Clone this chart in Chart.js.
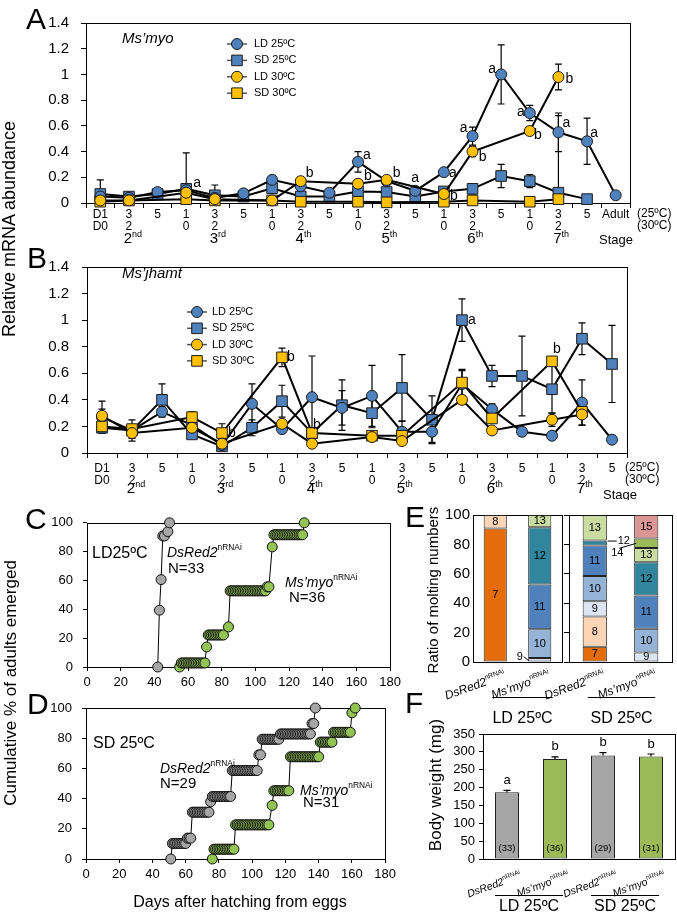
<!DOCTYPE html>
<html>
<head>
<meta charset="utf-8">
<title>Ms'myo / Ms'jhamt</title>
<script src="https://cdn.jsdelivr.net/npm/chart.js@4.4.1/dist/chart.umd.min.js"></script>
<style>
  body { margin: 0; background: #fff; }
  #fig { position: relative; width: 677px; height: 912px; overflow: hidden; font-family: "Liberation Sans", Arial, sans-serif; color: #000; }
  #fig canvas { position: absolute; }
  .t { position: absolute; white-space: nowrap; line-height: 1; }
  .v { position: absolute; white-space: nowrap; line-height: 1; transform: translate(-50%, -50%) rotate(-90deg); }
  .u { position: relative; top: -0.8em; font-size: 0.6em; font-style: normal; }
  .p { font-size: 30px; }
</style>
</head>
<body>
<div id="fig">
  <canvas id="cA" width="677" height="250" style="left:0;top:0"></canvas>
  <canvas id="cB" width="677" height="255" style="left:0;top:245px"></canvas>
  <canvas id="cC" width="405" height="185" style="left:0;top:505px"></canvas>
  <canvas id="cD" width="400" height="222" style="left:0;top:690px"></canvas>
  <canvas id="cE1" width="170" height="230" style="left:400px;top:500px"></canvas>
  <canvas id="cE2" width="187" height="230" style="left:490px;top:500px"></canvas>
  <canvas id="cF" width="277" height="192" style="left:400px;top:720px"></canvas>

  <div class="t p" style="left:26px;top:4px">A</div>
  <div class="t p" style="left:27px;top:243px">B</div>
  <div class="t p" style="left:25px;top:504px">C</div>
  <div class="t p" style="left:27px;top:689px">D</div>
  <div class="t p" style="left:405px;top:502px">E</div>
  <div class="t p" style="left:405px;top:688px">F</div>

  <div class="t" style="left:122px;top:30px;font-size:15px;font-style:italic">Ms’myo</div>
  <div class="t" style="left:122px;top:265px;font-size:15px;font-style:italic">Ms’jhamt</div>

  <div class="v" style="left:9px;top:229px;font-size:18px">Relative mRNA abundance</div>
  <div class="v" style="left:10px;top:683px;font-size:17px">Cumulative % of adults emerged</div>
  <div class="v" style="left:432px;top:590px;font-size:15px">Ratio of molting numbers</div>
  <div class="v" style="left:435px;top:785px;font-size:17px">Body weight (mg)</div>

  <div class="t" style="left:92px;top:545px;font-size:16px">LD25ºC</div>
  <div class="t" style="left:167px;top:545px;font-size:14px"><i>DsRed2</i><span class="u">nRNAi</span></div>
  <div class="t" style="left:168px;top:560px;font-size:15px">N=33</div>
  <div class="t" style="left:285px;top:575px;font-size:14px"><i>Ms’myo</i><span class="u">nRNAi</span></div>
  <div class="t" style="left:289px;top:589px;font-size:15px">N=36</div>

  <div class="t" style="left:93px;top:735px;font-size:16px">SD 25ºC</div>
  <div class="t" style="left:160px;top:761px;font-size:14px"><i>DsRed2</i><span class="u">nRNAi</span></div>
  <div class="t" style="left:160px;top:775px;font-size:15px">N=29</div>
  <div class="t" style="left:300px;top:783px;font-size:14px"><i>Ms’myo</i><span class="u">nRNAi</span></div>
  <div class="t" style="left:303px;top:794px;font-size:15px">N=31</div>

  <div class="t" style="left:240px;top:894px;font-size:16px;transform:translateX(-50%)">Days after hatching from eggs</div>
</div>

<script>
const FONT = '"Liberation Sans", Arial, sans-serif';
Chart.defaults.font.family = FONT;
Chart.defaults.color = '#000';

// ---------- A / B : relative mRNA abundance ----------
const stageTicks = [
  ['D1','D0'], ['3','2'], ['5',''],
  ['1','0'], ['3','2'], ['5',''],
  ['1','0'], ['3','2'], ['5',''],
  ['1','0'], ['3','2'], ['5',''],
  ['1','0'], ['3','2'], ['5',''],
  ['1','0'], ['3','2'], ['5','']
];
const stageTicksA = stageTicks.concat([['Adult','']]);
const instars = ['2', '3', '4', '5', '6', '7'];
const instarSup = ['nd', 'rd', 'th', 'th', 'th', 'th'];
const instarAt = [1, 4, 7, 10, 13, 16];

const seriesNames = ['LD 25ºC', 'SD 25ºC', 'LD 30ºC', 'SD 30ºC'];
const seriesFill = ['#4F81BD', '#4F81BD', '#FFC000', '#FFC000'];
const seriesShape = ['circle', 'rect', 'circle', 'rect'];

// Ms'myo (A)
const myoLD25 = [0.05, 0.04, 0.085, 0.10, 0.04, 0.075, 0.18, 0.13, 0.08, 0.32, 0.17, 0.095, 0.24, 0.52, 1.00, 0.70, 0.55, 0.48, 0.06];
const myoLD25Err = [0.02, 0.02, 0.02, 0.02, 0.02, 0.02, 0.02, 0.03, 0.02, 0.08, 0.02, 0.02, 0.02, 0.07, 0.23, 0.06, 0.15, 0.18, null];
const myoSD25 = [0.07, 0.05, 0.07, 0.11, 0.06, 0.05, 0.115, 0.05, 0.05, 0.09, 0.085, 0.05, 0.09, 0.11, 0.21, 0.17, 0.08, 0.03, null];
const myoSD25Err = [0.11, 0.02, 0.01, 0.28, 0.08, 0.01, 0.02, 0.02, 0.01, 0.02, 0.01, 0.01, 0.02, 0.04, 0.09, 0.05, 0.60, 0.01, null];
const myoLD30 = [0.02, 0.02, null, 0.08, 0.03, null, 0.02, 0.17, null, 0.15, 0.18, null, 0.07, 0.40, null, 0.56, 0.98, null, null];
const myoLD30Err = [0.01, 0.01, null, 0.02, 0.01, null, 0.01, 0.03, null, 0.02, 0.02, null, 0.01, 0.04, null, 0.03, 0.10, null, null];
const myoSD30 = [0.01, 0.02, null, 0.03, 0.02, null, 0.02, 0.01, null, 0.01, 0.005, null, 0.01, 0.02, null, 0.01, 0.03, null, null];
const myoSD30Err = [null, null, null, null, null, null, null, null, null, null, null, null, null, null, null, null, null, null, null];
const lettersA = [[3, 0.155, 'a', 11], [7, 0.23, 'b', 9], [9, 0.37, 'a', 9], [9, 0.21, 'b', 10], [10, 0.23, 'b', 10],
  [11, 0.19, 'a', 0], [12, 0.23, 'a', 9], [12, 0.05, 'b', 10], [13, 0.58, 'a', -9], [13, 0.36, 'b', 10],
  [14, 1.04, 'a', -9], [15, 0.71, 'a', -9], [15, 0.53, 'b', 8], [16, 0.96, 'b', 11], [16, 0.62, 'a', 8], [17, 0.54, 'a', 7]];

// Ms'jhamt (B)
const jhLD25 = [0.27, 0.17, 0.31, 0.21, 0.06, 0.37, 0.18, 0.42, 0.34, 0.43, 0.16, 0.16, 0.52, 0.33, 0.16, 0.13, 0.38, 0.10];
const jhLD25Err = [0.06, 0.03, 0.04, 0.03, 0.02, 0.15, 0.03, 0.31, 0.13, 0.23, 0.08, 0.08, 0.10, 0.04, 0.03, 0.02, 0.17, 0.01];
const jhSD25 = [0.19, 0.17, 0.40, 0.14, 0.05, 0.19, 0.39, 0.15, 0.36, 0.30, 0.49, 0.25, 1.00, 0.58, 0.58, 0.48, 0.86, 0.67];
const jhSD25Err = [0.04, 0.03, 0.12, 0.03, 0.01, 0.06, 0.12, 0.02, 0.19, 0.11, 0.25, 0.18, 0.16, 0.08, 0.30, 0.18, 0.12, 0.29];
const jhLD30 = [0.28, 0.15, null, 0.19, 0.07, null, 0.22, 0.07, null, 0.12, 0.09, null, 0.40, 0.17, null, 0.25, 0.29, null];
const jhLD30Err = [0.11, 0.06, null, 0.02, 0.02, null, 0.02, 0.01, null, 0.01, 0.01, null, 0.03, 0.01, null, 0.05, 0.08, null];
const jhSD30 = [0.20, 0.18, null, 0.27, 0.15, null, 0.72, 0.15, null, 0.13, 0.13, null, 0.53, 0.26, null, 0.69, 0.31, null];
const jhSD30Err = [0.05, 0.07, null, 0.04, 0.07, null, 0.07, 0.02, null, 0.02, 0.05, null, 0.10, 0.03, null, 0.03, 0.03, null];
const lettersB = [[4, 0.15, 'b', 10], [6, 0.72, 'b', 9], [7, 0.21, 'b', 5], [12, 1.0, 'a', 10], [15, 0.78, 'b', 5]];

// ---------- C / D : cumulative % emerged, [percent, days seen at that level] ----------
const ldDsRed = [
  [0, [42]], [39.4, [43]], [60.6, [44]], [90.9, [45, 46]], [93.9, [48]], [100, [49]]
];
const ldMyo = [
  [0, [55]],
  [2.8, [56, 57, 58, 59, 60, 61, 62, 63, 64, 65, 66, 67, 68, 69, 70]],
  [13.9, [71]],
  [22.2, [72, 73, 74, 75, 76, 77, 78, 79, 80, 81]],
  [27.8, [84]],
  [52.8, [85, 86, 87, 88, 89, 90, 91, 92, 93, 94, 95, 96, 97, 98, 99, 100, 101, 102, 103, 104, 105, 106]],
  [55.6, [107, 108]],
  [83.3, [110]],
  [91.7, [111, 112, 113, 114, 115, 116, 117, 118, 119, 120, 121, 122, 123, 124, 125, 126, 127, 128]],
  [100, [129]]
];
const sdDsRed = [
  [0, [51]],
  [10.3, [52, 53, 54, 55, 56, 57, 58, 59, 60]],
  [13.8, [61, 62, 63]],
  [31.0, [64, 65, 66, 67, 68, 69, 70, 71, 72, 73, 74]],
  [37.9, [75]],
  [41.4, [76, 77, 78, 79, 80, 81, 82, 83, 84, 85, 86, 87]],
  [58.6, [88, 89, 90, 91, 92, 93, 94, 95, 96, 97, 98, 99, 100, 101, 102, 103]],
  [69.0, [104, 105]],
  [79.3, [106, 107, 108, 109, 110, 111, 112, 113, 114, 115, 116]],
  [82.8, [117, 118, 119, 120, 121, 122, 123, 124, 125, 126, 127, 128, 129, 130, 131, 132, 133, 134, 135]],
  [89.7, [136, 137]],
  [100, [138]]
];
const sdMyo = [
  [0, [76]],
  [6.5, [77, 78, 79, 80, 81, 82, 83, 84, 85, 86, 87, 88, 89]],
  [22.6, [90, 91, 92, 93, 94, 95, 96, 97, 98, 99, 100, 101, 102, 103, 104, 105, 106, 107, 108, 109, 110]],
  [35.5, [112]],
  [45.2, [113, 114, 115, 116, 117, 118, 119, 120, 121, 122]],
  [67.7, [123, 124, 125, 126, 127, 128, 129, 130, 131, 132, 133, 134, 135, 136, 137, 138, 139, 140]],
  [77.4, [141, 142, 143, 144, 145, 146, 147, 148]],
  [83.9, [149, 150, 151, 152, 153, 154, 155, 156, 157, 158, 159]],
  [96.8, [160]],
  [100, [162]]
];

// ---------- E : ratio of molting numbers (%) ----------
const moltNums = ['7', '8', '9', '10', '11', '12', '13', '14', '15'];
const moltColors = ['#E46C0A', '#FBD5B5', '#DCE6F2', '#95B3D7', '#4F81BD', '#31859C', '#C9DDA0', '#9BBB59', '#D99694'];
const eGenes = ['DsRed2', 'Ms’myo'];
const eLdDsRed = [90.9, 9.1, 0, 0, 0, 0, 0, 0, 0];
const eLdMyo = [0, 0, 2.8, 19.4, 30.6, 38.9, 8.3, 0, 0];
const eSdDsRed = [10.3, 20.7, 10.3, 17.2, 20.7, 3.4, 17.2, 0, 0];
const eSdMyo = [0, 0, 6.5, 16.1, 22.6, 22.6, 9.7, 6.5, 16.1];

// ---------- F : body weight ----------
const weightGroups = ['DsRed2', 'Ms’myo', 'DsRed2', 'Ms’myo'];
const weightMean = [187, 280, 290, 287];
const weightErr = [5, 6, 8, 7];
const weightLetters = ['a', 'b', 'b', 'b'];
const weightN = ['(33)', '(36)', '(29)', '(31)'];
const weightFill = ['#A6A6A6', '#9BBB59', '#A6A6A6', '#9BBB59'];

// ---------- plugins ----------
const frame = {
  id: 'frame',
  beforeDatasetsDraw(chart) {
    const { ctx, chartArea: a } = chart;
    ctx.save();
    ctx.strokeStyle = '#000';
    ctx.lineWidth = 1;
    ctx.strokeRect(Math.round(a.left) + 0.5, Math.round(a.top) + 0.5, Math.round(a.right - a.left), Math.round(a.bottom - a.top));
    ctx.restore();
  }
};

function drawErrors(chart, up) {
  const ctx = chart.ctx, y = chart.scales.y;
  ctx.save();
  ctx.strokeStyle = '#000';
  ctx.lineWidth = 1.2;
  chart.data.datasets.forEach((ds, di) => {
    if (!ds.errors || !!ds.upOnly !== up) return;
    chart.getDatasetMeta(di).data.forEach((pt, i) => {
      const v = ds.data[i], e = ds.errors[i];
      if (v == null || e == null) return;
      const top = y.getPixelForValue(v + e);
      const bot = up ? pt.y : y.getPixelForValue(Math.max(v - e, 0));
      ctx.beginPath();
      ctx.moveTo(pt.x, top); ctx.lineTo(pt.x, bot);
      ctx.moveTo(pt.x - 3.5, top); ctx.lineTo(pt.x + 3.5, top);
      if (!up && v - e > 0) { ctx.moveTo(pt.x - 3.5, bot); ctx.lineTo(pt.x + 3.5, bot); }
      ctx.stroke();
    });
  });
  ctx.restore();
}
const errorBars = {
  id: 'errorBars',
  beforeDatasetsDraw(chart) { drawErrors(chart, false); },
  afterDatasetsDraw(chart) { drawErrors(chart, true); }
};

const notes = {
  id: 'notes',
  afterDatasetsDraw(chart, args, o) {
    if (!o.items) return;
    const ctx = chart.ctx, x = chart.scales.x, y = chart.scales.y;
    ctx.save();
    ctx.fillStyle = '#000';
    ctx.font = '14px ' + FONT;
    ctx.textAlign = 'center';
    ctx.textBaseline = 'middle';
    o.items.forEach(([i, v, t, dx]) => ctx.fillText(t, x.getPixelForValue(i) + dx, y.getPixelForValue(v)));
    ctx.restore();
  }
};

const key = {
  id: 'key',
  afterDraw(chart, args, o) {
    if (o.x == null) return;
    const ctx = chart.ctx;
    ctx.save();
    seriesNames.forEach((name, k) => {
      const y = o.y + k * o.dy, cx = o.x + 10;
      ctx.strokeStyle = '#555';
      ctx.lineWidth = 1.5;
      ctx.beginPath(); ctx.moveTo(o.x, y); ctx.lineTo(o.x + 20, y); ctx.stroke();
      ctx.fillStyle = seriesFill[k];
      ctx.strokeStyle = '#1c1c1c';
      ctx.lineWidth = 1;
      ctx.beginPath();
      if (seriesShape[k] === 'rect') ctx.rect(cx - 5.3, y - 5.3, 10.6, 10.6);
      else ctx.arc(cx, y, 5.5, 0, Math.PI * 2);
      ctx.fill(); ctx.stroke();
      ctx.fillStyle = '#000';
      ctx.font = '11px ' + FONT;
      ctx.textBaseline = 'middle';
      ctx.fillText(name, o.tx, y);
    });
    ctx.restore();
  }
};

const stage = {
  id: 'stage',
  afterDraw(chart, args, o) {
    if (o.iy == null) return;
    const ctx = chart.ctx, x = chart.scales.x, a = chart.chartArea;
    ctx.save();
    ctx.fillStyle = '#000';
    ctx.textBaseline = 'alphabetic';
    instarAt.forEach((idx, k) => {
      const cx = x.getPixelForValue(idx);
      ctx.font = '15px ' + FONT;
      const w1 = ctx.measureText(instars[k]).width;
      const left = cx - w1 / 2 - 1;
      ctx.fillText(instars[k], left, a.bottom + o.iy);
      ctx.font = '9px ' + FONT;
      ctx.fillText(instarSup[k], left + w1, a.bottom + o.iy - 6);
    });
    ctx.font = '12px ' + FONT;
    ctx.fillText('(25ºC)', a.right + o.ux, a.bottom + o.uy);
    ctx.fillText('(30ºC)', a.right + o.ux, a.bottom + o.uy + 12);
    ctx.font = '13px ' + FONT;
    ctx.fillText('Stage', a.right + o.sx, a.bottom + o.sy);
    ctx.restore();
  }
};

const supLabels = {
  id: 'supLabels',
  afterDraw(chart, args, o) {
    if (!o.mains) return;
    const ctx = chart.ctx, x = chart.scales.x, a = chart.chartArea;
    o.mains.forEach((m, i) => {
      ctx.save();
      ctx.translate(x.getPixelForValue(i) + o.dx, a.bottom + o.dy);
      ctx.rotate(-o.rot * Math.PI / 180);
      ctx.fillStyle = '#000';
      ctx.textBaseline = 'alphabetic';
      ctx.font = o.sup + 'px ' + FONT;
      const w2 = ctx.measureText('nRNAi').width;
      ctx.fillText('nRNAi', -w2, -o.size * 0.45);
      ctx.font = 'italic ' + o.size + 'px ' + FONT;
      const w1 = ctx.measureText(m).width;
      ctx.fillText(m, -w2 - w1, 0);
      ctx.restore();
    });
  }
};

const groups = {
  id: 'groups',
  afterDraw(chart, args, o) {
    if (!o.list) return;
    const ctx = chart.ctx, x = chart.scales.x, a = chart.chartArea;
    ctx.save();
    ctx.strokeStyle = '#000';
    ctx.lineWidth = 1;
    ctx.fillStyle = '#000';
    ctx.font = '16px ' + FONT;
    ctx.textAlign = 'center';
    o.list.forEach(g => {
      const x0 = x.getPixelForValue(g.from) + o.x0, x1 = x.getPixelForValue(g.to) + o.x1;
      const ly = Math.round(a.bottom + o.ly) + 0.5;
      ctx.beginPath(); ctx.moveTo(x0, ly); ctx.lineTo(x1, ly); ctx.stroke();
      ctx.fillText(g.text, (x0 + x1) / 2, a.bottom + o.ty);
    });
    ctx.restore();
  }
};

const segLabels = {
  id: 'segLabels',
  afterDatasetsDraw(chart, args, o) {
    const ctx = chart.ctx;
    const ext = o.ext || [];
    ctx.save();
    ctx.font = '11px ' + FONT;
    ctx.fillStyle = '#000';
    ctx.strokeStyle = '#000';
    ctx.lineWidth = 1;
    ctx.textAlign = 'center';
    ctx.textBaseline = 'middle';
    chart.data.datasets.forEach((ds, di) => {
      chart.getDatasetMeta(di).data.forEach((bar, i) => {
        if (!ds.data[i]) return;
        if (ext.some(e => e.label === ds.label && e.i === i)) return;
        ctx.fillText(ds.label, bar.x, (bar.y + bar.base) / 2);
      });
    });
    ext.forEach(e => {
      const bar = chart.getDatasetMeta(moltNums.indexOf(e.label)).data[e.i];
      const cx = bar.x, cy = (bar.y + bar.base) / 2;
      ctx.fillText(e.label, cx + e.tx, cy + e.ty);
      ctx.beginPath();
      ctx.moveTo(cx + e.l[0], cy + e.l[1]);
      ctx.lineTo(cx + e.l[2], cy + e.l[3]);
      ctx.stroke();
    });
    ctx.restore();
  }
};

const weightMarks = {
  id: 'weightMarks',
  afterDatasetsDraw(chart) {
    const ctx = chart.ctx, ds = chart.data.datasets[0], y = chart.scales.y, a = chart.chartArea;
    ctx.save();
    ctx.fillStyle = '#000';
    ctx.textAlign = 'center';
    ctx.textBaseline = 'middle';
    chart.getDatasetMeta(0).data.forEach((bar, i) => {
      ctx.font = '13px ' + FONT;
      ctx.fillText(weightLetters[i], bar.x, y.getPixelForValue(ds.data[i] + ds.errors[i]) - 10);
      ctx.font = '9.5px ' + FONT;
      ctx.fillText(weightN[i], bar.x, a.bottom - 11);
    });
    ctx.restore();
  }
};

// ---------- builders ----------
function lineSets(vals, errs) {
  // first dataset is painted last, so the 30ºC series end up on top
  return [2, 3, 0, 1].map(k => ({
    label: seriesNames[k],
    data: vals[k],
    errors: errs[k],
    borderColor: '#000',
    borderWidth: 2,
    tension: 0,
    spanGaps: true,
    clip: false,
    pointStyle: seriesShape[k],
    pointRadius: seriesShape[k] === 'rect' ? 7.5 : 5.5,
    pointBackgroundColor: seriesFill[k],
    pointBorderColor: '#1c1c1c',
    pointBorderWidth: 1
  }));
}

function qpcrChart(id, labels, sets, cfg) {
  return new Chart(document.getElementById(id), {
    type: 'line',
    data: { labels: labels, datasets: sets },
    options: {
      responsive: false,
      animation: false,
      events: [],
      layout: { padding: { top: cfg.top, right: cfg.right, left: 0, bottom: 0 } },
      plugins: {
        legend: { display: false },
        tooltip: { enabled: false },
        key: cfg.key,
        notes: { items: cfg.letters },
        stage: cfg.stage
      },
      scales: {
        x: {
          offset: true,
          grid: { offset: true, drawOnChartArea: false, tickLength: 5, color: '#000' },
          border: { display: false },
          ticks: { autoSkip: false, maxRotation: 0, padding: cfg.tickPad, font: { size: 12, lineHeight: 1.05 } },
          afterFit: s => { s.height = 47; }
        },
        y: {
          min: 0,
          max: 1.4,
          grid: { drawOnChartArea: false, tickLength: 5, color: '#000' },
          border: { display: false },
          ticks: { stepSize: 0.2, autoSkip: false, padding: cfg.yPad, font: { size: 15 },
                   callback: v => String(Math.round(v * 10) / 10) },
          afterFit: s => { s.width = cfg.yw; }
        }
      }
    },
    plugins: [frame, errorBars, key, notes, stage]
  });
}

function stepSet(levels, fill) {
  const pts = [];
  levels.forEach(([pct, days]) => days.forEach(d => pts.push({ x: d, y: pct })));
  return {
    data: pts,
    showLine: true,
    borderColor: '#000',
    borderWidth: 1,
    pointRadius: 5,
    pointBackgroundColor: fill,
    pointBorderColor: '#111',
    pointBorderWidth: 1,
    clip: false
  };
}

function emergenceChart(id, sets, cfg) {
  return new Chart(document.getElementById(id), {
    type: 'scatter',
    data: { datasets: sets },
    options: {
      responsive: false,
      animation: false,
      events: [],
      layout: { padding: { top: cfg.top, right: cfg.right } },
      plugins: { legend: { display: false }, tooltip: { enabled: false } },
      scales: {
        x: {
          type: 'linear', min: 0, max: 180,
          grid: { drawOnChartArea: false, tickLength: 4, color: '#000' },
          border: { display: false },
          ticks: { stepSize: 20, autoSkip: false, padding: 4, font: { size: 13 } },
          afterFit: s => { s.height = cfg.xh; }
        },
        y: {
          min: 0, max: 100,
          grid: { drawOnChartArea: false, tickLength: 4, color: '#000' },
          border: { display: false },
          ticks: { stepSize: 20, autoSkip: false, padding: 10, font: { size: 13 } },
          afterFit: s => { s.width = cfg.yw; }
        }
      }
    },
    plugins: [frame]
  });
}

function moltChart(id, pair, cfg) {
  return new Chart(document.getElementById(id), {
    type: 'bar',
    data: {
      labels: eGenes,
      datasets: moltNums.map((m, k) => ({
        label: m,
        data: pair.map(g => g[k] || null),
        backgroundColor: moltColors[k],
        borderColor: '#222',
        borderWidth: 1,
        borderSkipped: false,
        barPercentage: cfg.bp,
        categoryPercentage: 1
      }))
    },
    options: {
      responsive: false,
      animation: false,
      events: [],
      layout: { padding: { top: 15, right: cfg.right } },
      plugins: {
        legend: { display: false },
        tooltip: { enabled: false },
        segLabels: { ext: cfg.ext },
        supLabels: { mains: eGenes, size: 12, sup: 7, dx: 11, dy: 16, rot: 20 },
        groups: { list: [{ from: 0, to: 1, text: cfg.group }], x0: cfg.gx0, x1: cfg.gx1, ly: 35, ty: 61 }
      },
      scales: {
        x: {
          stacked: true,
          grid: { display: false },
          border: { display: false },
          ticks: { display: false },
          afterFit: s => { s.height = 68; }
        },
        y: {
          stacked: true,
          min: 0, max: 100,
          grid: { drawOnChartArea: false, drawTicks: cfg.tickMarks, tickLength: 5, color: '#000' },
          border: { display: false },
          ticks: { display: cfg.tickLabels, stepSize: 20, autoSkip: false, padding: 3, font: { size: 15 } },
          afterFit: s => { s.width = cfg.yw; }
        }
      }
    },
    plugins: [frame, segLabels, supLabels, groups]
  });
}

// ---------- charts ----------
qpcrChart('cA', stageTicksA,
  lineSets([myoLD25, myoSD25, myoLD30, myoSD30], [myoLD25Err, myoSD25Err, myoLD30Err, myoSD30Err]),
  { top: 23, right: 47, yw: 86, yPad: 12, tickPad: 0, letters: lettersA,
    key: { x: 227, y: 44, dy: 16.4, tx: 254 },
    stage: { iy: 40, uy: 14, ux: 7, sx: -31, sy: 41 } });

qpcrChart('cB', stageTicks,
  lineSets([jhLD25, jhSD25, jhLD30, jhSD30], [jhLD25Err, jhSD25Err, jhLD30Err, jhSD30Err]),
  { top: 10, right: 50, yw: 87, yPad: 13, tickPad: 4, letters: lettersB,
    key: { x: 187, y: 67, dy: 16.3, tx: 212 },
    stage: { iy: 40, uy: 18, ux: -2, sx: -24, sy: 46 } });

emergenceChart('cC', [stepSet(ldDsRed, '#A6A6A6'), stepSet(ldMyo, '#92C353')],
  { top: 14, right: 13, yw: 87, xh: 23 });

emergenceChart('cD', [stepSet(sdDsRed, '#A6A6A6'), stepSet(sdMyo, '#92C353')],
  { top: 18, right: 11, yw: 86, xh: 53 });

moltChart('cE1', [eLdDsRed, eLdMyo],
  { right: 8, yw: 73, bp: 0.52, tickMarks: false, tickLabels: true, group: 'LD 25ºC', gx0: -3, gx1: 13,
    ext: [{ label: '9', i: 1, tx: -20, ty: -3, l: [-16, -3, -11, 1] }] });

moltChart('cE2', [eSdDsRed, eSdMyo],
  { right: 5, yw: 79, bp: 0.47, tickMarks: true, tickLabels: false, group: 'SD 25ºC', gx0: -7, gx1: 9,
    ext: [{ label: '12', i: 0, tx: 29, ty: -2, l: [13, -2, 22, -2] },
          { label: '14', i: 1, tx: -29, ty: 10, l: [-27, 5, -10, 0] }] });

new Chart(document.getElementById('cF'), {
  type: 'bar',
  data: {
    labels: weightGroups,
    datasets: [{
      data: weightMean,
      errors: weightErr,
      upOnly: true,
      backgroundColor: weightFill,
      borderColor: '#222',
      borderWidth: 1,
      borderSkipped: false,
      barPercentage: 0.5,
      categoryPercentage: 1
    }]
  },
  options: {
    responsive: false,
    animation: false,
    events: [],
    layout: { padding: { top: 14, right: 2 } },
    plugins: {
      legend: { display: false },
      tooltip: { enabled: false },
      supLabels: { mains: weightGroups, size: 10.5, sup: 6.5, dx: 15, dy: 19, rot: 20 },
      groups: { list: [{ from: 0, to: 1, text: 'LD 25ºC' }, { from: 2, to: 3, text: 'SD 25ºC' }], x0: -12, x1: 8, ly: 36, ty: 52 }
    },
    scales: {
      x: {
        grid: { display: false },
        border: { display: false },
        ticks: { display: false },
        afterFit: s => { s.height = 53; }
      },
      y: {
        min: 0, max: 350,
        grid: { drawOnChartArea: false, tickLength: 4, color: '#000' },
        border: { display: false },
        ticks: { stepSize: 50, autoSkip: false, padding: 4, font: { size: 13 } },
        afterFit: s => { s.width = 83; }
      }
    }
  },
  plugins: [frame, errorBars, weightMarks, supLabels, groups]
});
</script>
</body>
</html>
